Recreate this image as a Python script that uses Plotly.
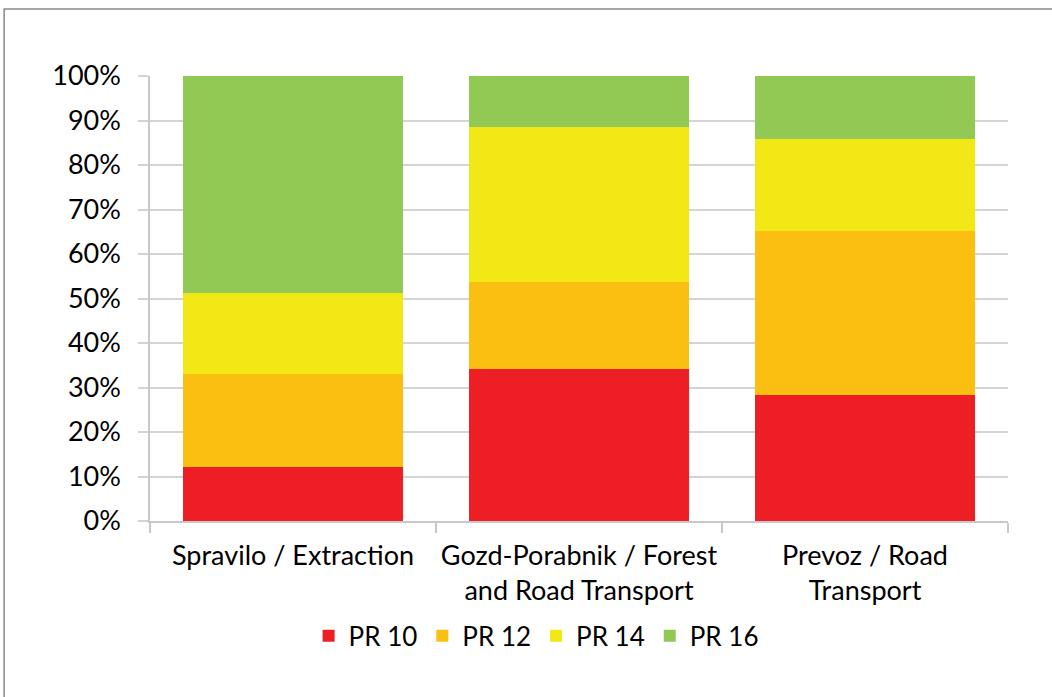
import plotly.graph_objects as go

categories = ["Spravilo / Extraction", "Gozd-Porabnik / Forest<br>and Road Transport", "Prevoz / Road<br>Transport"]
series_names = ["PR 10", "PR 12", "PR 14", "PR 16"]
pr10 = [12.1, 34.2, 28.3]
pr12 = [20.9, 19.5, 36.9]
pr14 = [18.2, 34.8, 20.6]
pr16 = [48.8, 11.5, 14.2]
colors = ["#ed1f24", "#fbbf12", "#f1e816", "#92c955"]
y_ticks = [0, 10, 20, 30, 40, 50, 60, 70, 80, 90, 100]
y_tick_labels = [f"{v}%" for v in y_ticks]

FONT = "Lato, Open Sans, sans-serif"

fig = go.Figure()
for name, vals, col in zip(series_names, [pr10, pr12, pr14, pr16], colors):
    fig.add_trace(go.Bar(x=categories, y=vals, name=name, marker=dict(color=col, line=dict(width=0)),
                         width=0.77))

fig.update_layout(
    barmode="stack",
    width=1052, height=697,
    margin=dict(l=150, r=44, t=76, b=176, autoexpand=False),
    paper_bgcolor="white", plot_bgcolor="white",
    font=dict(family=FONT, size=27, color="#000000"),
    showlegend=True,
    legend=dict(orientation="h", x=0.45, xanchor="center", y=-0.258, yanchor="middle",
                font=dict(size=26), itemwidth=30, traceorder="normal"),
)
fig.update_yaxes(range=[0, 100], tickvals=y_ticks, ticktext=y_tick_labels,
                 showgrid=True, gridcolor="#d4d4d4", gridwidth=1.5,
                 ticks="outside", ticklen=10, tickcolor="#d4d4d4", tickwidth=1.5,
                 showline=True, linecolor="#c8c8c8", linewidth=1.5, zeroline=False,
                 ticklabelstandoff=12, automargin=False)
fig.update_xaxes(showline=True, linecolor="#c8c8c8", linewidth=1.5, tickangle=0,
                 ticks="outside", tickson="boundaries", ticklen=10, tickcolor="#c8c8c8", tickwidth=1.5,
                 showgrid=False, ticklabelstandoff=10, automargin=False)

fig.add_shape(type="rect", xref="paper", yref="paper", x0=-0.170, x1=1.2, y0=-0.5, y1=1.1506,
              line=dict(color="#8a8a8a", width=1.5), fillcolor="rgba(0,0,0,0)", layer="below")

fig.write_html("out.html", config={"displayModeBar": False},
               post_script="document.body.style.margin='0';")
